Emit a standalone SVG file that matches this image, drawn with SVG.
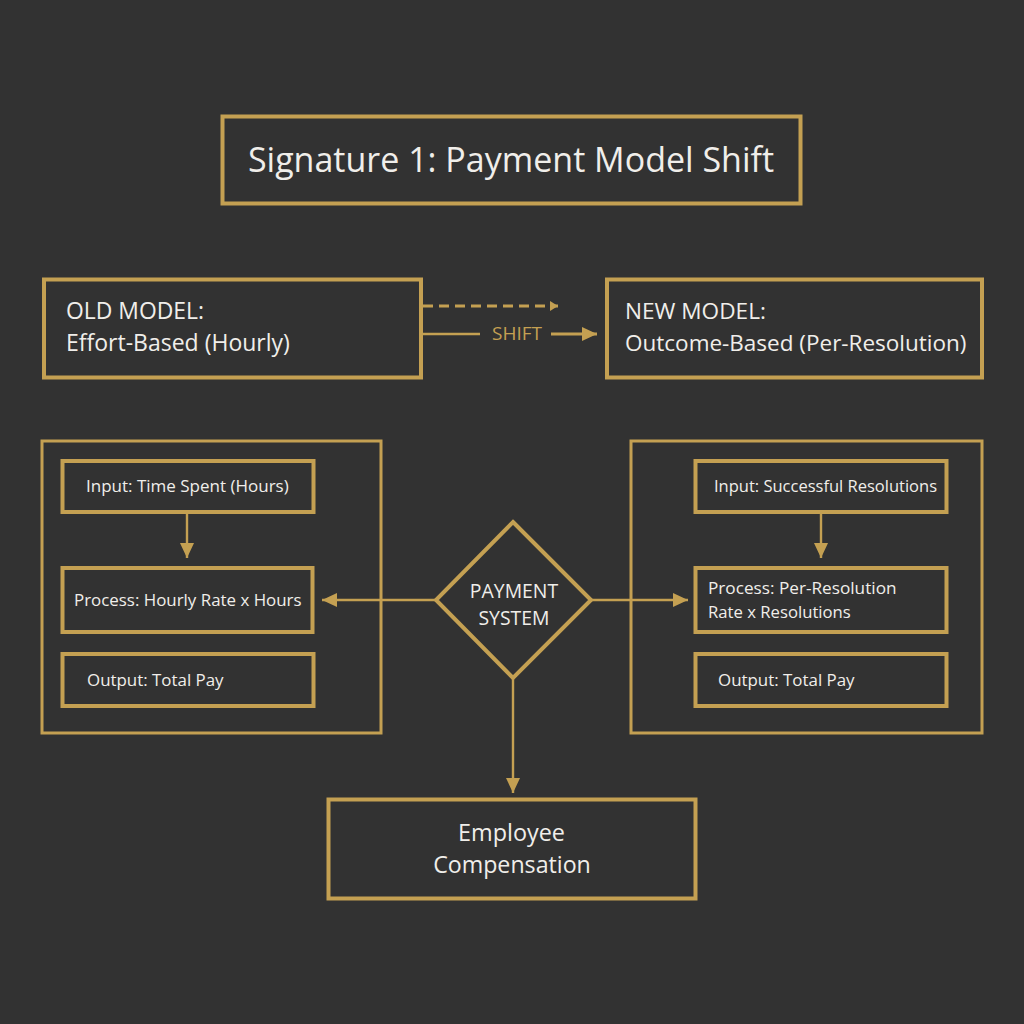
<svg xmlns="http://www.w3.org/2000/svg" width="1024" height="1024" viewBox="0 0 1024 1024">
<defs>
<marker id="ah" markerUnits="userSpaceOnUse" markerWidth="16" markerHeight="14" refX="15" refY="7" orient="auto"><path d="M0 0L15 7L0 14Z" fill="#c4a052"/></marker>
<marker id="ahs" markerUnits="userSpaceOnUse" markerWidth="9" markerHeight="10" refX="8" refY="5" orient="auto"><path d="M0 0L8 5L0 10Z" fill="#c4a052"/></marker>
</defs>
<style>
.b{fill:none;stroke:#c4a052;stroke-width:4}
.p{fill:none;stroke:#c4a052;stroke-width:3}
.c{fill:none;stroke:#c4a052;stroke-width:2.4}
text{font-family:"Open Sans","Noto Sans",sans-serif;fill:#f0eeea}
.m{font-size:22.6px}
.mid{text-anchor:middle}
</style>
<rect width="1024" height="1024" fill="#323232"/>
<g id="title"><rect class="b" x="222.500" y="116.500" width="578" height="87"/><text x="511" y="172" class="mid" font-size="34">Signature 1: Payment Model Shift</text></g>
<g id="old-model"><rect class="b" x="44" y="279.500" width="377" height="98"/><text x="66" y="319" font-size="22.900">OLD MODEL:</text><text x="66" y="351" font-size="23">Effort-Based (Hourly)</text></g>
<g id="new-model"><rect class="b" x="607" y="279.500" width="375" height="98"/><text x="625" y="319" class="m">NEW MODEL:</text><text x="625" y="351" font-size="22.500">Outcome-Based (Per-Resolution)</text></g>
<g id="old-panel"><rect class="p" x="42" y="441" width="339" height="292"/></g>
<g id="new-panel"><rect class="p" x="631" y="441" width="351" height="292"/></g>
<g id="old-input"><rect class="b" x="62.500" y="461" width="251" height="51"/><text x="86" y="492" font-size="17">Input: Time Spent (Hours)</text></g>
<g id="old-process"><rect class="b" x="62.500" y="568" width="250" height="64"/><text x="74" y="606" font-size="16.900">Process: Hourly Rate x Hours</text></g>
<g id="old-output"><rect class="b" x="62.500" y="654" width="251" height="52"/><text x="87" y="686" font-size="16.900">Output: Total Pay</text></g>
<g id="new-input"><rect class="b" x="695.500" y="461" width="251" height="51"/><text x="714" y="492" font-size="16.500">Input: Successful Resolutions</text></g>
<g id="new-process"><rect class="b" x="695.500" y="568" width="251" height="64"/><text x="708" y="594" font-size="17.200">Process: Per-Resolution</text><text x="708" y="618" font-size="16.700">Rate x Resolutions</text></g>
<g id="new-output"><rect class="b" x="695.500" y="654" width="251" height="52"/><text x="718" y="686" font-size="16.900">Output: Total Pay</text></g>
<g id="payment-system"><path class="b" d="M513 522L591 600L513 678L436 600Z"/><text x="514" y="598" class="mid" font-size="19.400">PAYMENT</text><text x="514" y="625" class="mid" font-size="19.400">SYSTEM</text></g>
<g id="compensation"><rect class="b" x="328.500" y="799.500" width="367" height="99"/><text x="511.500" y="841" class="mid" font-size="23.400">Employee</text><text x="512" y="873" class="mid" font-size="23.200">Compensation</text></g>
<g id="connectors">
<path class="p" d="M423 306H558" stroke-dasharray="10 6" marker-end="url(#ahs)"/>
<path class="c" d="M423 334H480"/>
<text x="517" y="340" class="mid" font-size="19" style="fill:#c4a052">SHIFT</text>
<path class="p" d="M551 334H597" marker-end="url(#ah)"/>
<path class="c" d="M187 513V558" marker-end="url(#ah)"/>
<path class="c" d="M821 513V558" marker-end="url(#ah)"/>
<path class="c" d="M436 600H322" marker-end="url(#ah)"/>
<path class="c" d="M591 600H688" marker-end="url(#ah)"/>
<path class="c" d="M513 678V793" marker-end="url(#ah)"/>
</g>
</svg>
